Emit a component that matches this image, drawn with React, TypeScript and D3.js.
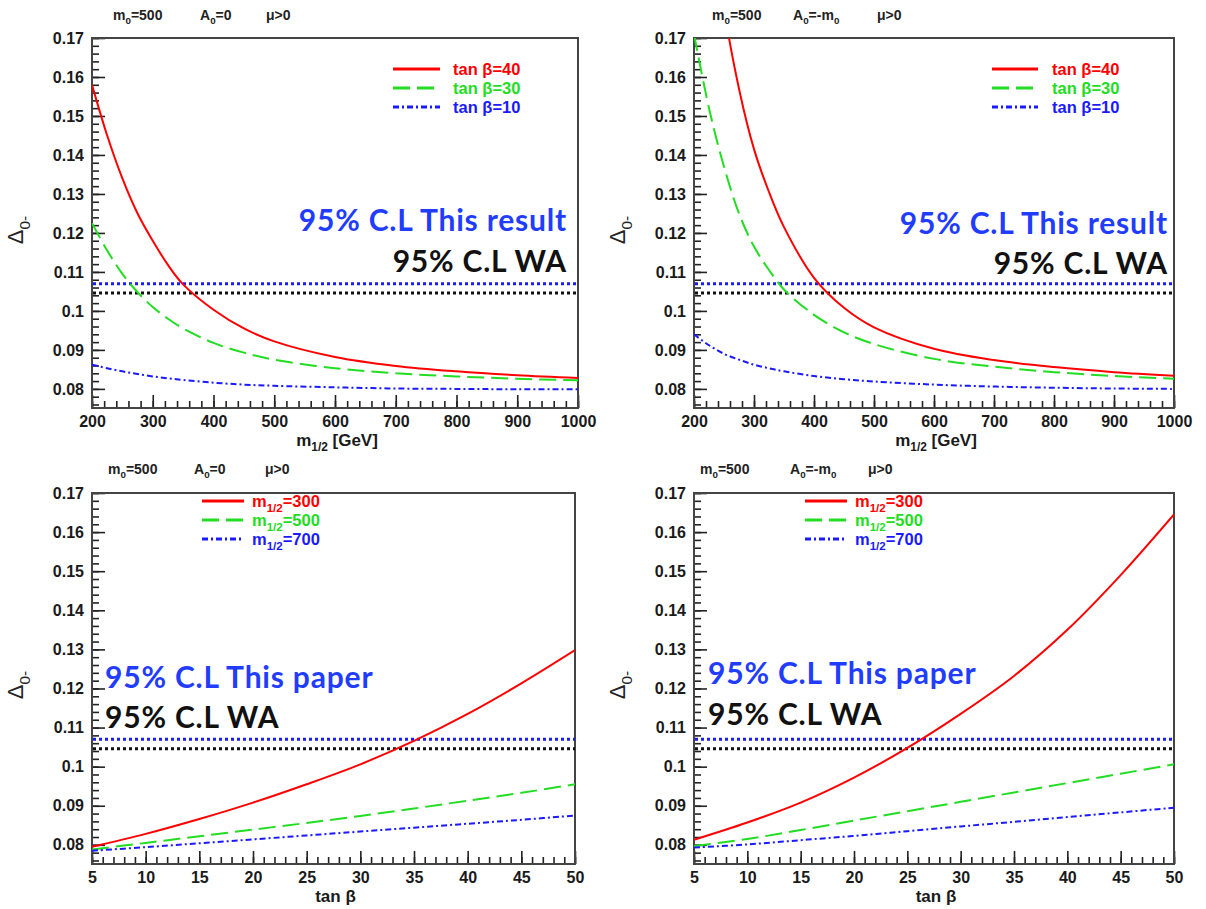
import React, { useEffect, useRef } from "react";
import * as d3 from "d3";

// scan variables
const m12Values = [200, 225, 250, 275, 300, 325, 350, 400, 450, 500, 600, 700, 800, 900, 1000];
const tanBetaValues = [5, 10, 15, 20, 25, 30, 35, 40, 45, 50];

// A0 = 0, Delta_0- vs m1/2
const a0Tan40 = [0.158, 0.145, 0.134, 0.125, 0.118, 0.1118, 0.1068, 0.1003, 0.0955, 0.0922, 0.0882, 0.0859, 0.0845, 0.0835, 0.0828];
const a0Tan30 = [0.1225, 0.1155, 0.1095, 0.1048, 0.101, 0.098, 0.0955, 0.0918, 0.0893, 0.0875, 0.0853, 0.084, 0.0832, 0.0826, 0.0822];
const a0Tan10 = [0.0862, 0.0853, 0.0845, 0.0838, 0.0832, 0.0827, 0.0823, 0.0816, 0.0811, 0.0808, 0.0804, 0.0801, 0.08, 0.0799, 0.0799];

// A0 = -m0, Delta_0- vs m1/2
const amTan40 = [0.26, 0.215, 0.178, 0.157, 0.1415, 0.1305, 0.1215, 0.1085, 0.1008, 0.0958, 0.0903, 0.0874, 0.0856, 0.0843, 0.0834];
const amTan30 = [0.171, 0.152, 0.137, 0.125, 0.1165, 0.1105, 0.1055, 0.099, 0.0945, 0.0915, 0.0877, 0.0857, 0.0843, 0.0833, 0.0826];
const amTan10 = [0.094, 0.0912, 0.089, 0.0875, 0.0862, 0.0853, 0.0845, 0.0833, 0.0825, 0.0819, 0.0811, 0.0806, 0.0803, 0.0801, 0.08];

// A0 = 0, Delta_0- vs tan beta
const a0M300 = [0.0795, 0.0828, 0.0866, 0.0908, 0.0955, 0.1006, 0.1066, 0.1135, 0.1213, 0.1298];
const a0M500 = [0.0788, 0.0805, 0.0822, 0.0839, 0.0856, 0.0874, 0.0893, 0.0913, 0.0933, 0.0955];
const a0M700 = [0.0785, 0.0794, 0.0804, 0.0814, 0.0824, 0.0834, 0.0844, 0.0854, 0.0864, 0.0875];

// A0 = -m0, Delta_0- vs tan beta
const amM300 = [0.0813, 0.0857, 0.0908, 0.0972, 0.1048, 0.1135, 0.1232, 0.135, 0.149, 0.1645];
const amM500 = [0.0797, 0.0815, 0.0838, 0.0862, 0.0886, 0.091, 0.0934, 0.0958, 0.0982, 0.1006];
const amM700 = [0.0793, 0.0801, 0.0812, 0.0823, 0.0835, 0.0847, 0.0859, 0.0871, 0.0883, 0.0895];

// 95% C.L. bounds
const boundThis = 0.107;
const boundWA = 0.1046;

const yDomain = [0.0751, 0.17];
const yMajorTicks = d3.range(8, 18).map((i) => i / 100);
const yMinorTicks = d3.range(38, 86).map((i) => i * 0.002);

const RED = "#ff0000";
const GREEN = "#22dd22";
const BLUE = "#1a1aff";

const styles = [
  { color: RED, dash: null },
  { color: GREEN, dash: "17,7" },
  { color: BLUE, dash: "6,3,2,3" },
];

const tanLabels = ["40", "30", "10"];
const m12Labels = ["300", "500", "700"];

const panels = [
  {
    left: 92, right: 578, top: 38, bottom: 408,
    xs: m12Values, ys: [a0Tan40, a0Tan30, a0Tan10], scan: "m12",
    a0: "zero", hdr: [113, 200, 266, 20],
    leg: [393, 440, 453, 69],
    txt: { anchor: "end", x: 567, y1: 231, y2: 272, paper: false },
  },
  {
    left: 694, right: 1174, top: 38, bottom: 408,
    xs: m12Values, ys: [amTan40, amTan30, amTan10], scan: "m12",
    a0: "minus", hdr: [712, 793, 877, 20],
    leg: [992, 1038, 1052, 69],
    txt: { anchor: "end", x: 1168, y1: 234, y2: 274, paper: false },
  },
  {
    left: 92, right: 575, top: 493, bottom: 864,
    xs: tanBetaValues, ys: [a0M300, a0M500, a0M700], scan: "tan",
    a0: "zero", hdr: [108, 194, 265, 474],
    leg: [202, 244, 252, 501],
    txt: { anchor: "start", x: 105, y1: 688, y2: 728, paper: true },
  },
  {
    left: 694, right: 1174, top: 493, bottom: 864,
    xs: tanBetaValues, ys: [amM300, amM500, amM700], scan: "tan",
    a0: "minus", hdr: [700, 790, 868, 474],
    leg: [805, 847, 855, 501],
    txt: { anchor: "start", x: 708, y1: 684, y2: 725, paper: true },
  },
];

function rich(text, parts, size) {
  parts.forEach(([s, kind]) => {
    const t = text.append("tspan").text(s);
    if (kind === "sub") t.attr("dy", size * 0.3).attr("font-size", size * 0.7);
    if (kind === "back") t.attr("dy", -size * 0.3);
  });
}

export default function App() {
  const ref = useRef(null);

  useEffect(() => {
    const svg = d3.select(ref.current);
    svg.selectAll("*").remove();

    panels.forEach((p, pi) => {
      const isM = p.scan === "m12";
      const x = d3.scaleLinear().domain(isM ? [200, 1000] : [5, 50]).range([p.left, p.right]);
      const y = d3.scaleLinear().domain(yDomain).range([p.bottom, p.top]);
      const g = svg.append("g");
      const clipId = "clip" + pi;
      g.append("clipPath").attr("id", clipId).append("rect")
        .attr("x", p.left).attr("y", p.top)
        .attr("width", p.right - p.left).attr("height", p.bottom - p.top);

      // y axis, ticks inside the frame
      const yMajor = g.append("g").attr("transform", `translate(${p.left},0)`)
        .call(d3.axisLeft(y).tickValues(yMajorTicks).tickSizeInner(-13).tickSizeOuter(0).tickPadding(8)
          .tickFormat((d) => d3.format("~g")(+d.toFixed(2))));
      const yMinor = g.append("g").attr("transform", `translate(${p.left},0)`)
        .call(d3.axisLeft(y).tickValues(yMinorTicks).tickSizeInner(-7).tickSizeOuter(0).tickFormat(() => ""));

      const xMajorVals = isM ? d3.range(200, 1001, 100) : d3.range(5, 51, 5);
      const xMinorVals = isM ? d3.range(200, 1001, 20) : d3.range(5, 51, 1);
      const xMajor = g.append("g").attr("transform", `translate(0,${p.bottom})`)
        .call(d3.axisBottom(x).tickValues(xMajorVals).tickSizeInner(-13).tickSizeOuter(0).tickPadding(8)
          .tickFormat(d3.format("d")));
      const xMinor = g.append("g").attr("transform", `translate(0,${p.bottom})`)
        .call(d3.axisBottom(x).tickValues(xMinorVals).tickSizeInner(-7).tickSizeOuter(0).tickFormat(() => ""));

      [yMajor, yMinor, xMajor, xMinor].forEach((a) => {
        a.select(".domain").remove();
        a.selectAll("line").attr("stroke", "#222").attr("stroke-width", 1.6);
        a.selectAll("text")
          .attr("font-family", "'Liberation Sans', Arial, sans-serif")
          .attr("font-weight", "bold").attr("font-size", 16).attr("fill", "#1a1a1a");
      });

      // frame
      g.append("rect").attr("x", p.left).attr("y", p.top)
        .attr("width", p.right - p.left).attr("height", p.bottom - p.top)
        .attr("fill", "none").attr("stroke", "#444").attr("stroke-width", 2);

      // bound lines
      [[boundThis, BLUE], [boundWA, "#111"]].forEach(([v, c]) => {
        g.append("line").attr("x1", p.left + 1).attr("x2", p.right)
          .attr("y1", y(v)).attr("y2", y(v))
          .attr("stroke", c).attr("stroke-width", 3).attr("stroke-dasharray", "3,3");
      });

      // curves
      const line = d3.line().x((d) => x(d[0])).y((d) => y(d[1])).curve(d3.curveCatmullRom.alpha(0.5));
      p.ys.forEach((vals, si) => {
        g.append("path")
          .attr("d", line(p.xs.map((xv, i) => [xv, vals[i]])))
          .attr("clip-path", `url(#${clipId})`)
          .attr("fill", "none").attr("stroke", styles[si].color).attr("stroke-width", 2)
          .attr("stroke-dasharray", styles[si].dash);
      });

      // legend
      const [lx1, lx2, tx, ly] = p.leg;
      styles.forEach((s, si) => {
        const yy = ly + si * 19;
        g.append("line").attr("x1", lx1).attr("x2", lx2).attr("y1", yy).attr("y2", yy)
          .attr("stroke", s.color).attr("stroke-width", 3)
          .attr("stroke-dasharray", s.dash);
        const t = g.append("text").attr("x", tx).attr("y", yy + 6)
          .attr("font-family", "'Liberation Sans', Arial, sans-serif")
          .attr("font-weight", "bold").attr("font-size", 16.5).attr("fill", s.color);
        if (isM) rich(t, [["tan \u03b2=" + tanLabels[si], null]], 16.5);
        else rich(t, [["m", null], ["1/2", "sub"], ["=" + m12Labels[si], "back"]], 16.5);
      });

      // header
      const [hm, ha, hmu, hy] = p.hdr;
      const hdrFont = (t) => t.attr("font-family", "'Liberation Sans', Arial, sans-serif")
        .attr("font-weight", "bold").attr("font-size", 14).attr("fill", "#222");
      rich(hdrFont(g.append("text").attr("x", hm).attr("y", hy)), [["m", null], ["0", "sub"], ["=500", "back"]], 14);
      rich(hdrFont(g.append("text").attr("x", ha).attr("y", hy)),
        p.a0 === "zero" ? [["A", null], ["0", "sub"], ["=0", "back"]]
          : [["A", null], ["0", "sub"], ["=-m", "back"], ["0", "sub"]], 14);
      hdrFont(g.append("text").attr("x", hmu).attr("y", hy)).text("\u03bc>0");

      // axis titles
      const xt = g.append("text").attr("x", (p.left + p.right) / 2 + 2).attr("y", p.bottom + 38)
        .attr("text-anchor", "middle")
        .attr("font-family", "'Liberation Sans', Arial, sans-serif")
        .attr("font-weight", "bold").attr("font-size", 17).attr("fill", "#1a1a1a");
      if (isM) rich(xt, [["m", null], ["1/2", "sub"], [" [GeV]", "back"]], 17);
      else rich(xt, [["tan ", null], ["\u03b2", null]], 17);

      const yt = g.append("text")
        .attr("transform", `translate(${p.left - 69},${p.top + 192}) rotate(-90)`)
        .attr("text-anchor", "middle")
        .attr("font-family", "'Liberation Sans', Arial, sans-serif")
        .attr("font-size", 22).attr("fill", "#222");
      rich(yt, [["\u0394", null], ["0-", "sub"]], 22);

      // 95% C.L. labels
      const bigFont = (t) => t.attr("font-family", "Lato, 'Open Sans', sans-serif")
        .attr("font-weight", "bold").attr("font-size", 30).attr("letter-spacing", 0.8)
        .attr("text-anchor", p.txt.anchor);
      bigFont(g.append("text").attr("x", p.txt.x).attr("y", p.txt.y1)).attr("fill", "#1f3cff")
        .text(p.txt.paper ? "95% C.L This paper" : "95% C.L This result");
      bigFont(g.append("text").attr("x", p.txt.x).attr("y", p.txt.y2)).attr("fill", "#111")
        .text("95% C.L WA");
    });
  }, []);

  return (
    <svg
      ref={ref}
      width={1206}
      height={909}
      style={{ position: "absolute", left: 0, top: 0, background: "#fff" }}
    />
  );
}
